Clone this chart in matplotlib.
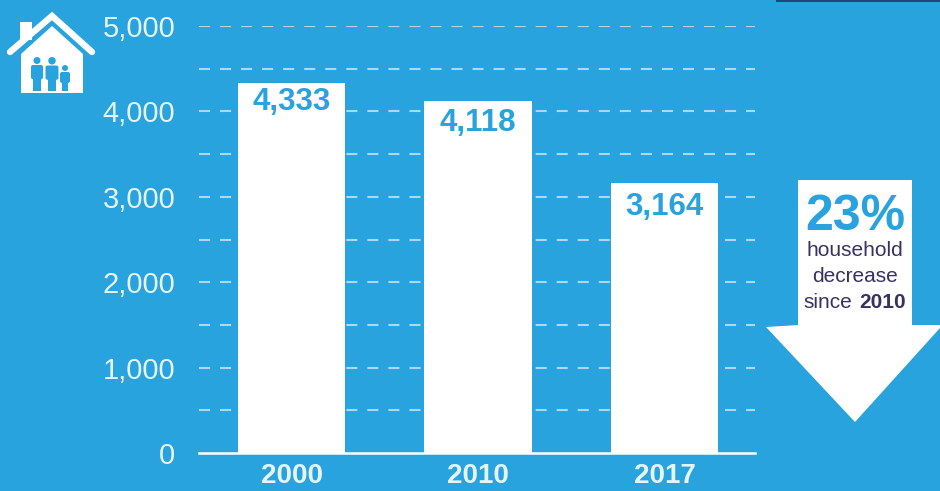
import matplotlib
matplotlib.use("Agg")
import matplotlib.pyplot as plt
from matplotlib.patches import Polygon, Circle, Rectangle, FancyBboxPatch

years = ["2000", "2010", "2017"]
households = [4333, 4118, 3164]
value_labels = ["4,333", "4,118", "3,164"]
y_ticks = [0, 1000, 2000, 3000, 4000, 5000]
y_tick_labels = ["0", "1,000", "2,000", "3,000", "4,000", "5,000"]
grid_levels = [500, 1000, 1500, 2000, 2500, 3000, 3500, 4000, 4500, 5000]

BG = "#29A3DD"
WHITE = "#FFFFFF"
SOFT = "#E6F5FC"
NAVY = "#37325F"
W, H = 940, 491

plt.rcParams["font.family"] = ["Liberation Sans", "DejaVu Sans"]
fig = plt.figure(figsize=(W / 100, H / 100), dpi=100, facecolor=BG)

# Chart axes: y=0 at pixel 453, y=5000 at pixel 26, x from 199 to 755
ax = fig.add_axes([199 / W, 1 - 453 / H, (755 - 199) / W, (453 - 26) / H], facecolor=BG)
ax.set_ylim(0, 5000)
ax.set_xlim(-0.496, 2.485)
xpos = list(range(len(years)))

for lvl in grid_levels:
    ax.axhline(lvl, color="#A8DBF3", lw=1.5, dashes=(5.3, 4.8), zorder=1)

ax.bar(xpos, households, width=0.574, color=WHITE, zorder=2, clip_on=False)

label_drop = [222, 258, 278]
for x, v, lab, d in zip(xpos, households, value_labels, label_drop):
    ax.text(x, v - d, lab, ha="center", va="center", fontsize=22.5,
            fontweight="bold", color=BG, zorder=3)

for s in ["top", "right", "left"]:
    ax.spines[s].set_visible(False)
ax.spines["bottom"].set_color(WHITE)
ax.spines["bottom"].set_linewidth(1.8)
ax.set_yticks(y_ticks)
ax.set_yticklabels(y_tick_labels, fontsize=21, color=SOFT)
ax.set_xticks(xpos)
ax.set_xticklabels(years, fontsize=20, fontweight="bold", color=SOFT)
ax.tick_params(axis="y", length=0, pad=17)
ax.tick_params(axis="x", length=0, pad=7)

# Overlay in pixel coordinates for the decorations
ov = fig.add_axes([0, 0, 1, 1], facecolor="none")
ov.set_xlim(0, W)
ov.set_ylim(H, 0)
ov.axis("off")

# Arrow callout
ov.add_patch(Polygon([(798, 180), (912, 180), (912, 325), (940, 325), (940, 328),
                      (855, 422), (766, 327), (798, 325)],
                     closed=True, fc=WHITE, ec="none"))
ov.text(855, 217, "23%", ha="center", va="center", fontsize=36, fontweight="bold", color=BG)
ov.text(855, 250, "household", ha="center", va="center", fontsize=15, color=NAVY)
ov.text(855, 276, "decrease", ha="center", va="center", fontsize=15, color=NAVY)
ov.text(803, 302, "since", ha="left", va="center", fontsize=15, color=NAVY)
ov.text(859, 302, "2010", ha="left", va="center", fontsize=15, fontweight="bold", color=NAVY)

# House icon
ov.add_patch(Rectangle((20, 22), 12, 18, fc=WHITE, ec="none"))
ov.add_patch(Polygon([(21, 54), (52, 26), (83, 54), (83, 93), (21, 93)], fc=WHITE, ec="none"))
ov.plot([10, 52, 92], [52, 16, 52], color=WHITE, lw=4.6, solid_capstyle="round",
        solid_joinstyle="miter")
for cx, top, w, h in [(37, 57, 14, 34), (52, 57, 15, 34), (65, 65, 12, 26)]:
    r = w * 0.25
    ov.add_patch(Circle((cx, top + r), r, fc=BG, ec="none"))
    ov.add_patch(FancyBboxPatch((cx - w / 2 + 1, top + 2 * r + 1), w - 2, h * 0.42,
                                boxstyle="round,pad=0,rounding_size=2", fc=BG, ec="none"))
    ov.add_patch(Rectangle((cx - w * 0.28, top + 2 * r + 2), w * 0.56, h - 2 * r - 2,
                           fc=BG, ec="none"))

# Dark sliver at the top right edge
ov.add_patch(Rectangle((776, 0), 164, 1.6, fc="#2A3F7E", ec="none"))

fig.savefig("out.png", dpi=100, facecolor=BG)
